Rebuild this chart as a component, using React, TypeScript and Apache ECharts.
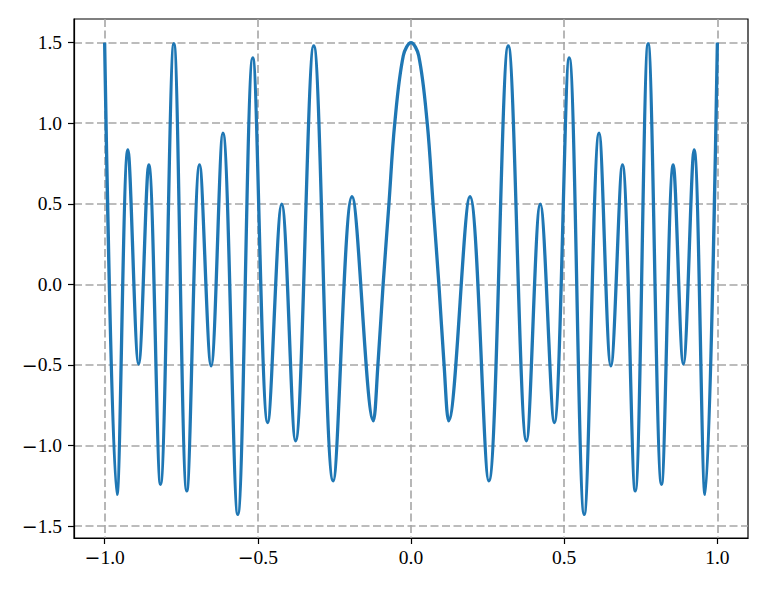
import React, { useEffect, useRef } from "react";
import * as echarts from "echarts";

// Curve: turning points, the two ends, and a few points on the broad central peak
const xValues = [
  -1.0, -0.96, -0.924, -0.889, -0.856, -0.8177, -0.774, -0.7318, -0.69, -0.6525,
  -0.614, -0.5654, -0.5165, -0.4676, -0.422, -0.377, -0.3175, -0.254, -0.1925, -0.1227,
  -0.108, -0.091, -0.072, -0.053, -0.025,
  0.0,
  0.025, 0.053, 0.072, 0.091, 0.108,
  0.1227, 0.1925, 0.254, 0.3175, 0.377, 0.422, 0.4676, 0.5165, 0.5654, 0.614,
  0.6525, 0.69, 0.7318, 0.774, 0.8177, 0.856, 0.889, 0.924, 0.96, 1.0,
];
const yValues = [
  1.5, -1.303, 0.835, -0.494, 0.741, -1.24, 1.493, -1.281, 0.741, -0.505,
  0.939, -1.427, 1.405, -0.857, 0.498, -0.97, 1.48, -1.219, 0.545, -0.846,
  -0.5, 0.0, 0.5, 1.0, 1.42,
  1.5,
  1.42, 1.0, 0.5, 0.0, -0.5,
  -0.846, 0.545, -1.219, 1.48, -0.97, 0.498, -0.857, 1.405, -1.427, 0.939,
  -0.505, 0.741, -1.281, 1.493, -1.24, 0.741, -0.494, 0.835, -1.303, 1.5,
];
const xTicks = [-1.0, -0.5, 0.0, 0.5, 1.0];
const yTicks = [-1.5, -1.0, -0.5, 0.0, 0.5, 1.0, 1.5];

const fmt = (v: number) => {
  const s = Math.abs(Number(v)).toFixed(1);
  return Number(v) < 0 ? "{m|\u2212}" + s : s;
};

export default function App() {
  const ref = useRef<HTMLDivElement>(null);
  useEffect(() => {
    document.body.style.margin = "0";
    if (!ref.current) return;
    const chart = echarts.init(ref.current, undefined, { renderer: "svg" });
    const font = "'Liberation Serif', 'DejaVu Serif', serif";
    const rich = {
      m: { fontFamily: "'DejaVu Sans', sans-serif", fontSize: 19, color: "#000" },
    };
    const gridLine = {
      show: true,
      lineStyle: { color: "#a6a6a6", width: 1.6, type: [8, 3.5] as any },
    };
    const commonAxis = {
      type: "value" as const,
      axisLine: { show: true, onZero: false, lineStyle: { color: "#000", width: 1.2 } },
      splitLine: gridLine,
    };
    chart.setOption({
      animation: false,
      backgroundColor: "#ffffff",
      grid: {
        left: 74,
        top: 19,
        width: 674,
        height: 519,
        show: true,
        borderColor: "#000",
        borderWidth: 1.2,
        backgroundColor: "transparent",
      },
      xAxis: {
        ...commonAxis,
        min: -1.1,
        max: 1.1,
        axisTick: {
          show: true,
          customValues: xTicks,
          length: 6,
          lineStyle: { color: "#000", width: 1.2 },
        },
        axisLabel: {
          customValues: xTicks,
          formatter: fmt,
          rich,
          color: "#000",
          fontFamily: font,
          fontSize: 19.5,
          margin: 9,
        },
      },
      yAxis: {
        ...commonAxis,
        min: -1.5735,
        max: 1.6465,
        axisTick: {
          show: true,
          customValues: yTicks,
          length: 6,
          lineStyle: { color: "#000", width: 1.2 },
        },
        axisLabel: {
          customValues: yTicks,
          formatter: fmt,
          rich,
          color: "#000",
          fontFamily: font,
          fontSize: 19.5,
          margin: 12,
        },
      },
      series: [
        {
          type: "line",
          data: xValues.map((x, i) => [x, yValues[i]]),
          showSymbol: false,
          smooth: 0.36,
          lineStyle: { color: "#1f77b4", width: 3.3 },
          z: 3,
        },
      ],
    });
    return () => chart.dispose();
  }, []);
  return <div ref={ref} style={{ width: 768, height: 589 }} />;
}
